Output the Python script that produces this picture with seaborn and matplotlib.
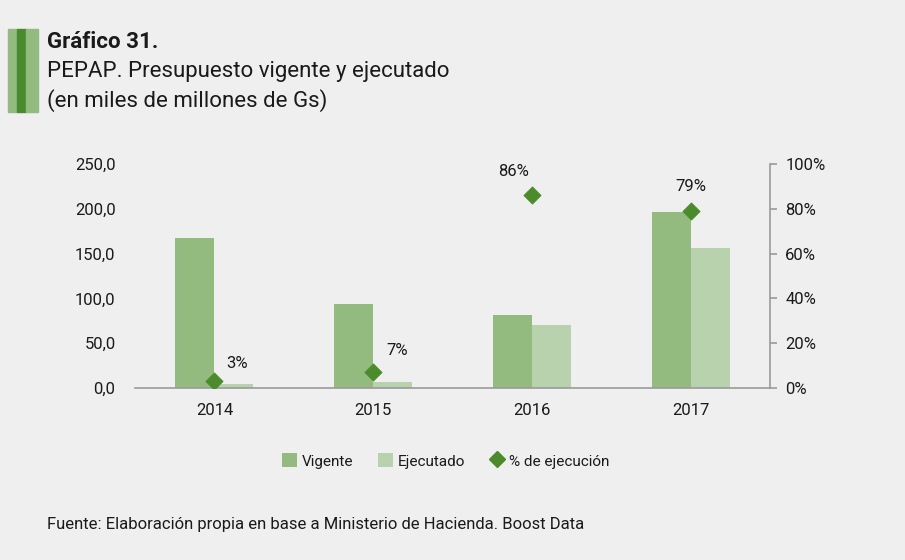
import matplotlib
matplotlib.use("Agg")
import matplotlib.pyplot as plt
import matplotlib.ticker as mticker
from matplotlib.patches import Patch, Rectangle
from matplotlib.lines import Line2D
import seaborn as sns
import pandas as pd

years = ["2014", "2015", "2016", "2017"]
vigente = [167.5, 93.5, 81.5, 196.5]
ejecutado = [5.0, 7.0, 70.0, 156.5]
pct_ejecucion = [3, 7, 86, 79]

BG = "#efefef"
C_VIG = "#93bb80"
C_EJE = "#b8d2ad"
C_PCT = "#4b8b2c"
TXT = "#1a1a1a"

sns.set_theme(style="white")
plt.rcParams["font.family"] = ["Roboto", "DejaVu Sans"]

df = pd.DataFrame({
    "Año": years * 2,
    "Monto": vigente + ejecutado,
    "Serie": ["Vigente"] * 4 + ["Ejecutado"] * 4,
})

fig = plt.figure(figsize=(9.05, 5.6), dpi=100, facecolor=BG)
ax = fig.add_axes([135 / 905, 1 - 388 / 560, 635 / 905, 224 / 560])
ax.set_facecolor(BG)

sns.barplot(data=df, x="Año", y="Monto", hue="Serie", order=years,
            hue_order=["Vigente", "Ejecutado"],
            palette=[C_VIG, C_EJE], width=0.49, saturation=1,
            linewidth=0, ax=ax, legend=False)

ax.set_xlim(-0.5, 3.5)
ax.set_ylim(0, 250)
ax.set_yticks([0, 50, 100, 150, 200, 250])
ax.yaxis.set_major_formatter(mticker.FuncFormatter(lambda v, p: f"{v:.1f}".replace(".", ",")))
ax.set_xlabel("")
ax.set_ylabel("")
for s in ["top", "right", "left"]:
    ax.spines[s].set_visible(False)
ax.spines["bottom"].set_color("#9a9a9a")
ax.spines["bottom"].set_linewidth(1.2)
ax.tick_params(axis="y", length=0, pad=14, labelsize=12, labelcolor=TXT)
ax.tick_params(axis="x", length=0, pad=11, labelsize=12, labelcolor=TXT)

ax2 = ax.twinx()
ax2.set_ylim(0, 1)
ax2.set_yticks([0, 0.2, 0.4, 0.6, 0.8, 1.0])
ax2.yaxis.set_major_formatter(mticker.FuncFormatter(lambda v, p: f"{v * 100:.0f}%"))
for s in ["top", "left", "bottom"]:
    ax2.spines[s].set_visible(False)
ax2.spines["right"].set_color("#9a9a9a")
ax2.spines["right"].set_linewidth(1.2)
ax2.tick_params(axis="y", direction="out", length=5, width=1.2, color="#9a9a9a",
                pad=6, labelsize=12, labelcolor=TXT)

pct_frac = [p / 100 for p in pct_ejecucion]
sns.scatterplot(x=list(range(len(years))), y=pct_frac, marker="D", s=75,
                color=C_PCT, edgecolor=C_PCT, ax=ax2, zorder=5, legend=False)

# label offsets (points) so the labels clear the bars
label_offsets = [(16, 13), (17, 16), (-13, 17), (0, 18)]
for i, p in enumerate(pct_ejecucion):
    ax2.annotate(f"{p}%", (i, p / 100), xytext=label_offsets[i], textcoords="offset points",
                 ha="center", va="center", fontsize=12, color=TXT)

# Title block with green stripes
fig.patches.append(Rectangle((8 / 905, 1 - 112 / 560), 9 / 905, 83 / 560,
                             transform=fig.transFigure, color=C_VIG, zorder=0))
fig.patches.append(Rectangle((17 / 905, 1 - 112 / 560), 9 / 905, 83 / 560,
                             transform=fig.transFigure, color="#4a8a2e", zorder=0))
fig.patches.append(Rectangle((26 / 905, 1 - 112 / 560), 12 / 905, 83 / 560,
                             transform=fig.transFigure, color=C_VIG, zorder=0))
fig.text(47 / 905, 1 - 42 / 560, "Gráfico 31.", fontsize=16, fontweight="bold",
         color=TXT, va="center", ha="left")
fig.text(47 / 905, 1 - 72 / 560, "PEPAP. Presupuesto vigente y ejecutado", fontsize=16,
         color=TXT, va="center", ha="left")
fig.text(47 / 905, 1 - 101 / 560, "(en miles de millones de Gs)", fontsize=16,
         color=TXT, va="center", ha="left")

handles = [
    Patch(facecolor=C_VIG, edgecolor="none", label="Vigente"),
    Patch(facecolor=C_EJE, edgecolor="none", label="Ejecutado"),
    Line2D([], [], marker="D", linestyle="none", markersize=8, color=C_PCT,
           label="% de ejecución"),
]
fig.legend(handles=handles, loc="center", bbox_to_anchor=(446 / 905, 1 - 461 / 560),
           ncol=3, frameon=False, fontsize=11, handlelength=1.0, handleheight=1.0,
           handletextpad=0.3, columnspacing=1.6, labelcolor=TXT)

fig.text(47 / 905, 1 - 524 / 560,
         "Fuente: Elaboración propia en base a Ministerio de Hacienda. Boost Data",
         fontsize=12, color=TXT, va="center", ha="left")

fig.savefig("out.png", dpi=100, facecolor=BG)
